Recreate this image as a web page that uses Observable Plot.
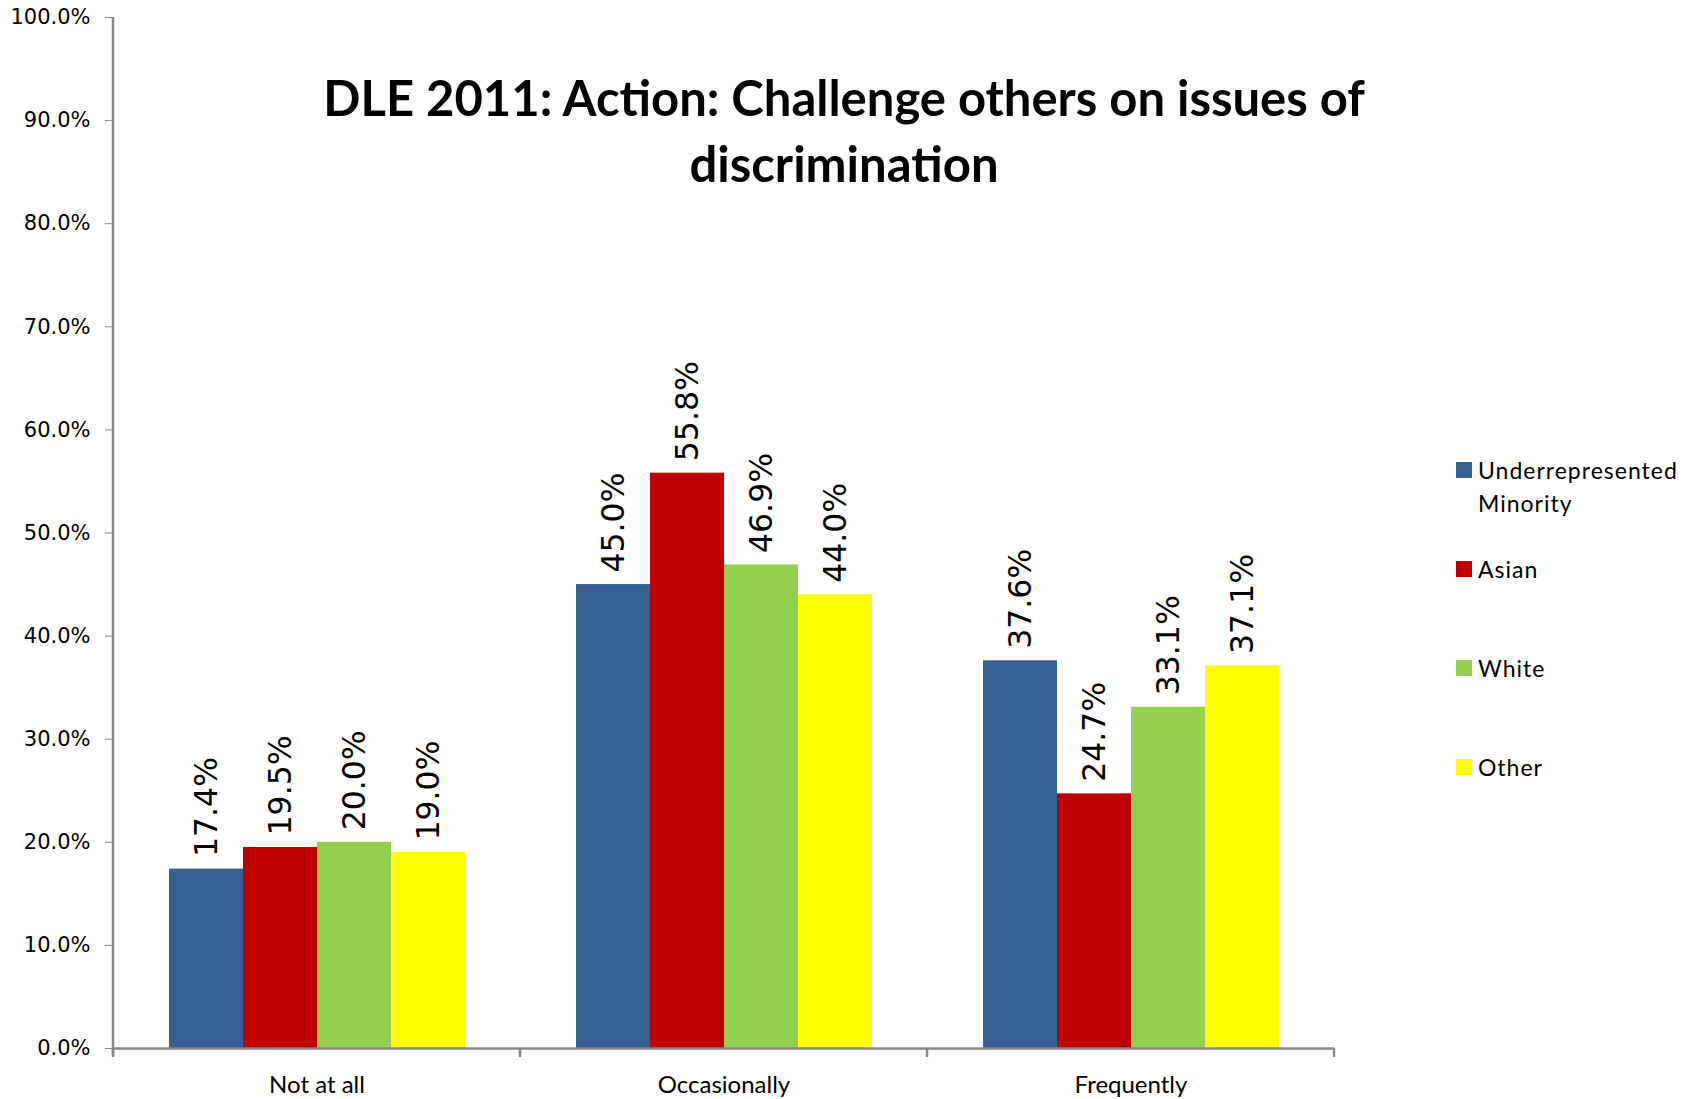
<!DOCTYPE html>
<html><head><meta charset="utf-8">
<script src="https://cdn.jsdelivr.net/npm/d3@7"></script>
<script src="https://cdn.jsdelivr.net/npm/@observablehq/plot@0.6"></script>
<style>
body{margin:0;background:#fff;}
#wrap{position:relative;width:1694px;height:1099px;overflow:hidden;}
#title{position:absolute;left:0;top:64px;width:1688px;text-align:center;font-family:Lato,sans-serif;font-weight:700;font-size:49px;line-height:66px;color:#000;}
.li{position:absolute;left:1456px;font-family:Lato,sans-serif;font-size:23px;letter-spacing:1px;line-height:33px;color:#000;}
.sw{position:absolute;left:0;top:8px;width:16px;height:16px;}
.lt{position:absolute;left:22px;top:0;width:225px;}
</style></head><body><div id="wrap"></div>
<script>
const categories = ["Not at all", "Occasionally", "Frequently"];
const groups = ["Underrepresented Minority", "Asian", "White", "Other"];
const colors = ["#366092", "#C00000", "#92D050", "#FFFF00"];
const urm   = [17.4, 45.0, 37.6];
const asian = [19.5, 55.8, 24.7];
const white = [20.0, 46.9, 33.1];
const other = [19.0, 44.0, 37.1];
const yTicks = [0, 10, 20, 30, 40, 50, 60, 70, 80, 90, 100];
const titleLines = ["DLE 2011: Action: Challenge others on issues of", "discrimination"];

const series = [urm, asian, white, other];
const data = categories.flatMap((c, ci) => groups.map((g, gi) => ({category: c, group: g, value: series[gi][ci]})));

const plot = Plot.plot({
  width: 1694, height: 1099,
  marginLeft: 113, marginRight: 360, marginTop: 17, marginBottom: 51,
  style: {fontFamily: "Lato, sans-serif", background: "white", overflow: "visible"},
  fx: {domain: categories, padding: 0, label: null},
  x: {domain: groups, paddingInner: 0, paddingOuter: 0.75, axis: null},
  y: {domain: [0, 100], label: null},
  color: {domain: groups, range: colors},
  marks: [
    Plot.barY(data, {fx: "category", x: "group", y: "value", fill: "group"}),
    Plot.ruleY([0], {stroke: "#868686", strokeWidth: 2.5}),
    Plot.axisY({ticks: yTicks, tickFormat: d => d.toFixed(1) + "%", tickSize: 8, tickPadding: 15, stroke: "#868686", fill: "black", fontSize: 21, fontFamily: "DejaVu Sans", label: null}),
    Plot.axisFx({anchor: "bottom", tickSize: 0, tickPadding: 27, fontSize: 24, label: null, fill: "black"}),
    Plot.text(data, {fx: "category", x: "group", y: "value", text: d => d.value.toFixed(1) + "%", rotate: -90, textAnchor: "start", dy: -12, fontSize: 31.5, fontFamily: "DejaVu Sans", fill: "black"})
  ]
});

const wrap = document.getElementById("wrap");
wrap.appendChild(plot);

// axis lines and category-boundary ticks from the library's scales
const fx = plot.scale("fx"), y = plot.scale("y");
const svg = d3.select(plot);
const left = fx.apply(categories[0]);
const right = fx.apply(categories[categories.length - 1]) + fx.bandwidth;
const g = svg.append("g").attr("stroke", "#868686").attr("stroke-width", 2.5);
g.append("line").attr("x1", left).attr("x2", left).attr("y1", y.apply(100)).attr("y2", y.apply(0) + 8);
const bounds = categories.map(c => fx.apply(c)).concat([right]);
bounds.forEach(b => g.append("line").attr("x1", b).attr("x2", b).attr("y1", y.apply(0)).attr("y2", y.apply(0) + 9));

// title
const t = document.createElement("div");
t.id = "title";
t.innerHTML = titleLines.join("<br>");
wrap.appendChild(t);

// legend
const legendTops = [454, 553, 652, 751];
groups.forEach((gname, i) => {
  const d = document.createElement("div");
  d.className = "li";
  d.style.top = legendTops[i] + "px";
  d.innerHTML = `<div class="sw" style="background:${colors[i]}"></div><div class="lt">${gname}</div>`;
  wrap.appendChild(d);
});
</script>
</body></html>
